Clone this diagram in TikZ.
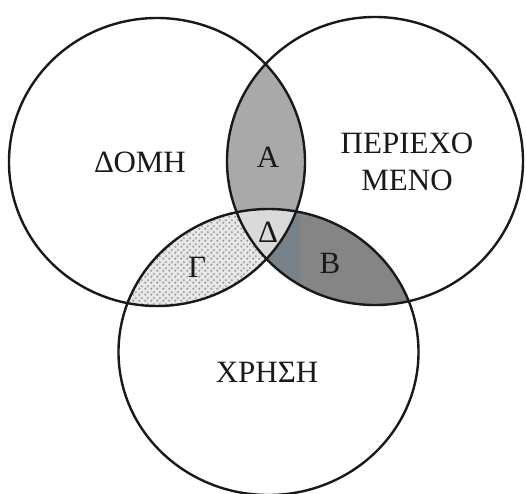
\documentclass[tikz,border=0pt]{standalone}
\usepackage{fontspec}
\setmainfont{Liberation Serif}
\usetikzlibrary{patterns}
\pgfdeclarepatternformonly{gdots}{\pgfqpoint{0pt}{0pt}}{\pgfqpoint{6pt}{6pt}}{\pgfqpoint{6pt}{6pt}}{%
  \pgfpathcircle{\pgfqpoint{1.5pt}{1.5pt}}{1.4pt}%
  \pgfpathcircle{\pgfqpoint{4.5pt}{4.5pt}}{1.4pt}%
  \pgfusepath{fill}}
\definecolor{cA}{HTML}{A9A9A9}
\definecolor{cB}{HTML}{858585}
\definecolor{cBb}{HTML}{798288}
\definecolor{cD}{HTML}{DADADA}
\definecolor{cG}{HTML}{E8E8E8}
\definecolor{cGd}{HTML}{9E9E9E}
\tikzset{
  ring/.style={draw=black!90, line width=2.4pt},
  lbl/.style={font=\fontsize{31}{33}\selectfont, inner sep=0pt, text=black!90},
}
\begin{document}
\begin{tikzpicture}[x=1pt,y=-1pt]
\useasboundingbox (0,0) rectangle (526,493);
\def\Lc{(157,162) ellipse [x radius=148, y radius=144]}
\def\Rc{(375,161) ellipse [x radius=148, y radius=144]}
\def\Bc{(268.5,352) ellipse [x radius=150, y radius=143]}
% A : left and right
\begin{scope}
  \clip \Lc;
  \fill[cA] \Rc;
\end{scope}
% B : right and bottom
\begin{scope}
  \clip \Rc;
  \fill[cB] \Bc;
  \clip \Bc;
  \fill[cBb] (255,200) rectangle (300,300);
\end{scope}
% Gamma : left and bottom
\begin{scope}
  \clip \Lc;
  \fill[cG] \Bc;
  \fill[pattern=gdots, pattern color=cGd] \Bc;
\end{scope}
% Delta : all three
\begin{scope}
  \clip \Lc;
  \clip \Rc;
  \fill[cD] \Bc;
\end{scope}
\draw[ring] \Lc;
\draw[ring] \Rc;
\draw[ring] \Bc;
\node[lbl] (domi) at (140,162) {ΔΟΜΗ};
\node[lbl] (a) at (268,157) {Α};
\node[lbl] (per) at (407,143) {ΠΕΡΙΕΧΟ};
\node[lbl] (men) at (407,180) {ΜΕΝΟ};
\node[lbl] (d) at (268,232) {Δ};
\node[lbl] (g) at (197,267) {Γ};
\node[lbl] (b) at (330,263) {Β};
\node[lbl] (xr) at (267,372) {ΧΡΗΣΗ};
\end{tikzpicture}
\end{document}
